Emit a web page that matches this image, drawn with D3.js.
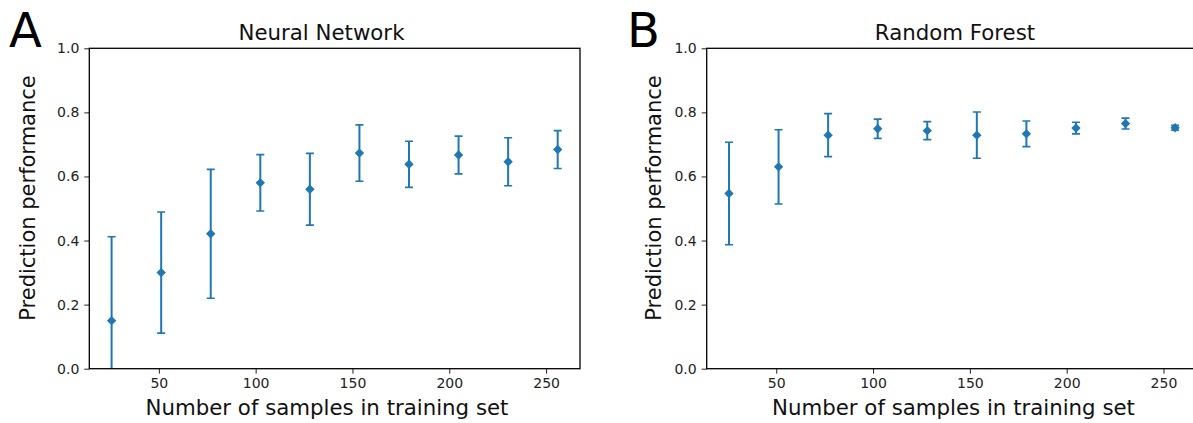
<!DOCTYPE html>
<html>
<head>
<meta charset="utf-8">
<script src="https://cdn.jsdelivr.net/npm/d3@7"></script>
<style>
body{margin:0;background:#fff;}
svg text{font-family:"DejaVu Sans",sans-serif;}
</style>
</head>
<body>
<script>
// training set sizes (x)
const samples=[25.6,51.2,76.8,102.4,128,153.6,179.2,204.8,230.4,256];
const xTicks=[50,100,150,200,250];
const yTicks=[0,0.2,0.4,0.6,0.8,1.0];

// neural network: mean and error
const nnMean=[0.150,0.300,0.421,0.580,0.560,0.673,0.638,0.667,0.646,0.684];
const nnErr=[0.262,0.189,0.201,0.088,0.112,0.088,0.072,0.059,0.075,0.059];

// random forest: mean and error
const rfMean=[0.547,0.630,0.729,0.749,0.743,0.729,0.733,0.751,0.765,0.752];
const rfErr=[0.160,0.116,0.067,0.030,0.028,0.072,0.040,0.018,0.017,0.008];

const W=1193,H=423;
const blue="#1f77b4";

const svg=d3.select("body").append("svg")
    .attr("width",W).attr("height",H)

const panels=[
  {letter:"A",title:"Neural Network",mean:nnMean,err:nnErr,left:89.3,letterX:9,ylabX:35,titleX:321.5,xlabX:327},
  {letter:"B",title:"Random Forest",mean:rfMean,err:rfErr,left:706.7,letterX:627,ylabX:661,titleX:955,xlabX:953.5}
];

const plotTop=48.3,plotBottom=368.7,plotW=490.7;

panels.forEach((p,i)=>{
  const x=d3.scaleLinear().domain([14.08,267.52]).range([p.left,p.left+plotW]);
  const y=d3.scaleLinear().domain([0,1]).range([plotBottom,plotTop]);
  const data=samples.map((s,j)=>({s:s,m:p.mean[j],e:p.err[j]}));

  const g=svg.append("g");

  svg.append("clipPath").attr("id","clip"+i)
    .append("rect").attr("x",p.left).attr("y",plotTop).attr("width",plotW).attr("height",plotBottom-plotTop);

  const plot=g.append("g").attr("clip-path","url(#clip"+i+")");

  // error bars
  plot.selectAll(".eb").data(data).enter().append("line")
    .attr("x1",d=>x(d.s)).attr("x2",d=>x(d.s))
    .attr("y1",d=>y(d.m-d.e)).attr("y2",d=>y(d.m+d.e))
    .attr("stroke",blue).attr("stroke-width",2);
  // caps
  const caps=[];
  data.forEach(d=>{caps.push({s:d.s,v:d.m-d.e});caps.push({s:d.s,v:d.m+d.e});});
  plot.selectAll(".cap").data(caps).enter().append("line")
    .attr("x1",d=>x(d.s)-4).attr("x2",d=>x(d.s)+4)
    .attr("y1",d=>y(d.v)).attr("y2",d=>y(d.v))
    .attr("stroke",blue).attr("stroke-width",1.6);
  // diamond markers
  plot.selectAll(".pt").data(data).enter().append("path")
    .attr("d",d3.symbol(d3.symbolSquare,44))
    .attr("transform",d=>"translate("+x(d.s)+","+y(d.m)+") rotate(45)")
    .attr("fill",blue);

  // axes
  const xAxis=g.append("g").attr("transform","translate(0,"+plotBottom+")")
    .call(d3.axisBottom(x).tickValues(xTicks).tickSize(5).tickPadding(4));
  const yAxis=g.append("g").attr("transform","translate("+p.left+",0)")
    .call(d3.axisLeft(y).tickValues(yTicks).tickFormat(d3.format(".1f")).tickSize(5).tickPadding(5));
  [xAxis,yAxis].forEach(a=>{
    a.select(".domain").remove();
    a.selectAll("text").attr("font-size",14).attr("fill","#222").style("font-family","DejaVu Sans");
    a.selectAll("line").attr("stroke","#222");
  });

  // frame
  g.append("rect").attr("x",p.left).attr("y",plotTop).attr("width",plotW).attr("height",plotBottom-plotTop)
    .attr("fill","none").attr("stroke","#000").attr("stroke-width",1.3);

  // title and labels
  g.append("text").attr("x",p.titleX).attr("y",40)
    .attr("text-anchor","middle").attr("font-size",21.3).attr("fill","#111").text(p.title);
  g.append("text").attr("x",p.xlabX).attr("y",415)
    .attr("text-anchor","middle").attr("font-size",21.3).attr("fill","#111").text("Number of samples in training set");
  g.append("text").attr("transform","translate("+p.ylabX+",198) rotate(-90)")
    .attr("text-anchor","middle").attr("font-size",21).attr("fill","#111").text("Prediction performance");

  g.append("text").attr("x",p.letterX).attr("y",47)
    .attr("font-size",48).attr("fill","#000").text(p.letter);
});
</script>
</body>
</html>
